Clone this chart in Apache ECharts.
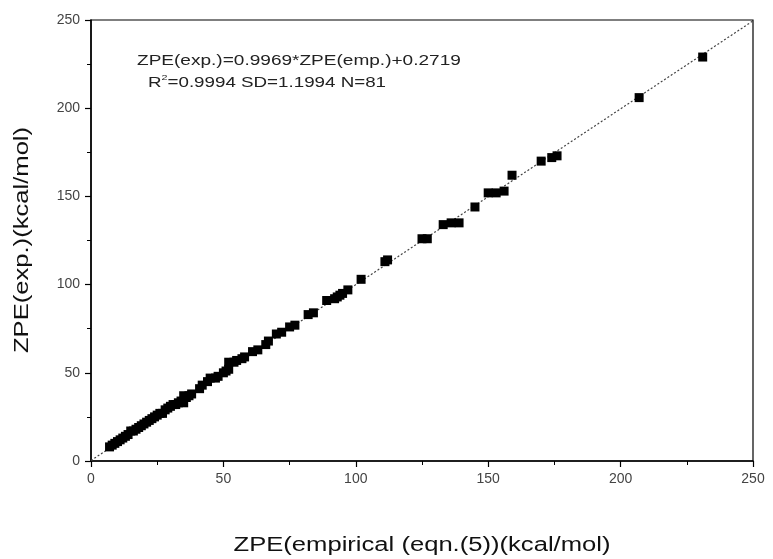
<!DOCTYPE html>
<html>
<head>
<meta charset="utf-8">
<script src="https://cdn.jsdelivr.net/npm/echarts@6/dist/echarts.min.js"></script>
<style>html,body{margin:0;padding:0;background:#fff}#c{width:773px;height:559px}</style>
</head>
<body>
<div id="c"></div>
<script>
// ZPE(empirical) values (x)
const empX = [231,207,176,174,170,159,150,153,156,145,133,136,139,125,127,111,112,102,97,
  93,94,95,92,89,84,82,77,75,72,70,67,66,63,61,58,57,55,54,52,51,50,52,
  47,45,42,41,38,37,35,34,35,33,32,30,28,27,25,23,22,20,19,17,15,14,13,12,10,9,8,7,
  36,31,29,26,24,21,18,16,11,44,48];
// ZPE(exp.) values (y)
const expY = [229,206,173,172,170,162,152,152,153,144,134,135,135,126,126,113,114,103,97,
  93,94,95,92,91,84,83,77,76,73,72,68,66,63,62,59,58,57,56,56,51,50,52,
  47,47,43,41,38,37,37,34,33,33,32,31,29,27,26,24,23,21,20,18,17,15,14,13,11,10,9,8,
  36,32,30,27,25,22,19,17,12,45,48];
const slope = 0.9969, intercept = 0.2719;
const xTicks = [0,50,100,150,200,250];
const yTicks = [0,50,100,150,200,250];
const xName = 'ZPE(empirical (eqn.(5))(kcal/mol)';
const yName = 'ZPE(exp.)(kcal/mol)';

const pts = empX.map((x,i)=>[x,expY[i]]);
const fitLine = [[0, intercept],[250, slope*250+intercept]];
const chart = echarts.init(document.getElementById('c'));
const font = '"Liberation Sans", Arial, sans-serif';
const axisCommon = {
  min: 0, max: 250, interval: 50,
  axisLine: {show:true, onZero:false, lineStyle:{color:'#000', width:1.5}},
  axisTick: {show:true, inside:false, length:6, lineStyle:{color:'#000', width:1.2}},
  minorTick: {show:true, splitNumber:2, length:4, lineStyle:{color:'#000', width:1}},
  splitLine: {show:false},
  axisLabel: {color:'#444', fontSize:14, fontFamily:font}
};
chart.setOption({
  animation:false,
  backgroundColor:'#fff',
  grid:{left:91, right:20, top:20, bottom:98, show:true, borderColor:'#000', borderWidth:1.2, backgroundColor:'transparent'},
  xAxis: Object.assign({}, axisCommon, {type:'value',
    axisLabel:Object.assign({}, axisCommon.axisLabel, {margin:11, formatter:v=>xTicks.includes(v)?String(v):''})}),
  yAxis: Object.assign({}, axisCommon, {type:'value',
    axisLabel:Object.assign({}, axisCommon.axisLabel, {margin:11, formatter:v=>yTicks.includes(v)?String(v):''})}),
  series:[
    {type:'line', data:fitLine, symbol:'none', lineStyle:{color:'#444', width:1.2, type:[2,2]}, z:1},
    {type:'scatter', data:pts, symbol:'rect', symbolSize:9, itemStyle:{color:'#000', opacity:1}, z:2}
  ],
  graphic:[
    {type:'text', x:422, y:545, scaleX:1.28, style:{text:xName, font:'20px '+font, fill:'#111', align:'center', verticalAlign:'middle'}},
    {type:'text', x:22, y:240, rotation:Math.PI/2, scaleX:1.28, style:{text:yName, font:'20px '+font, fill:'#111', align:'center', verticalAlign:'middle'}},
    {type:'text', x:137, y:61, scaleX:1.36, style:{text:'ZPE(exp.)=0.9969*ZPE(emp.)+0.2719', font:'14px '+font, fill:'#222', align:'left', verticalAlign:'middle'}},
    {type:'text', x:148, y:82, scaleX:1.34, style:{text:'{a|R}{s|2}{a|=0.9994 SD=1.1994 N=81}', font:'14px '+font, fill:'#222', align:'left', verticalAlign:'middle',
      rich:{a:{fontSize:14, fontFamily:font, fill:'#222', verticalAlign:'bottom'}, s:{fontSize:8, fontFamily:font, fill:'#222', verticalAlign:'top', padding:[0,0,9,0]}}}}
  ]
});
</script>
</body>
</html>
